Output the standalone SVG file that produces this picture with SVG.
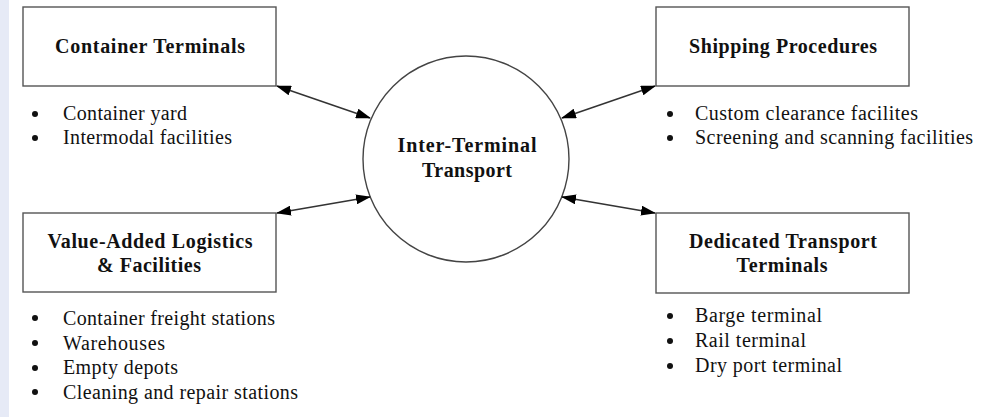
<svg xmlns="http://www.w3.org/2000/svg" width="996" height="417" viewBox="0 0 996 417">
<style>
.box{fill:#fff;stroke:#555;stroke-width:1.4}
.title{font-family:"Liberation Serif","Times New Roman",Times,serif;font-weight:bold;font-size:20px;fill:#111;text-anchor:middle}
.item{font-family:"Liberation Serif","Times New Roman",Times,serif;font-size:20px;fill:#111}
.dot{fill:#111}
.conn{stroke:#333;stroke-width:1.4;fill:none;marker-start:url(#ah);marker-end:url(#ah)}
</style>
<defs>
<marker id="ah" viewBox="0 0 15 10" refX="14" refY="5" markerWidth="15" markerHeight="10" markerUnits="userSpaceOnUse" orient="auto-start-reverse">
<path d="M0,0 L15,5 L0,10 Z" fill="#000"/>
</marker>
</defs>
<rect x="0" y="0" width="996" height="417" fill="#fff"/>
<rect x="0" y="0" width="9" height="417" fill="#e6eaf6"/>
<g id="container-terminals">
<rect class="box" x="23" y="7" width="253" height="79"/>
<text class="title" x="150" y="53" textLength="190" lengthAdjust="spacing">Container Terminals</text>
<circle class="dot" cx="35" cy="114" r="3"/>
<text class="item" x="63" y="120" textLength="124" lengthAdjust="spacing">Container yard</text>
<circle class="dot" cx="35" cy="138" r="3"/>
<text class="item" x="63" y="144" textLength="169" lengthAdjust="spacing">Intermodal facilities</text>
</g>
<g id="shipping-procedures">
<rect class="box" x="656" y="7" width="253" height="79"/>
<text class="title" x="783" y="53" textLength="188" lengthAdjust="spacing">Shipping Procedures</text>
<circle class="dot" cx="670" cy="114" r="3"/>
<text class="item" x="695" y="120" textLength="223" lengthAdjust="spacing">Custom clearance facilites</text>
<circle class="dot" cx="670" cy="138" r="3"/>
<text class="item" x="695" y="144" textLength="278" lengthAdjust="spacing">Screening and scanning facilities</text>
</g>
<g id="value-added">
<rect class="box" x="23" y="213" width="253" height="79"/>
<text class="title" x="150" y="248" textLength="205" lengthAdjust="spacing">Value-Added Logistics</text>
<text class="title" x="149" y="272" textLength="104" lengthAdjust="spacing">&amp; Facilities</text>
<circle class="dot" cx="35" cy="318" r="3"/>
<text class="item" x="63" y="325" textLength="212" lengthAdjust="spacing">Container freight stations</text>
<circle class="dot" cx="35" cy="343" r="3"/>
<text class="item" x="63" y="350" textLength="102" lengthAdjust="spacing">Warehouses</text>
<circle class="dot" cx="35" cy="368" r="3"/>
<text class="item" x="63" y="374" textLength="115" lengthAdjust="spacing">Empty depots</text>
<circle class="dot" cx="35" cy="392" r="3"/>
<text class="item" x="63" y="399" textLength="235" lengthAdjust="spacing">Cleaning and repair stations</text>
</g>
<g id="dedicated-transport">
<rect class="box" x="656" y="213" width="253" height="80"/>
<text class="title" x="783" y="248" textLength="188" lengthAdjust="spacing">Dedicated Transport</text>
<text class="title" x="782" y="272" textLength="91" lengthAdjust="spacing">Terminals</text>
<circle class="dot" cx="670" cy="316" r="3"/>
<text class="item" x="695" y="322" textLength="127" lengthAdjust="spacing">Barge terminal</text>
<circle class="dot" cx="670" cy="341" r="3"/>
<text class="item" x="695" y="347" textLength="111" lengthAdjust="spacing">Rail terminal</text>
<circle class="dot" cx="670" cy="366" r="3"/>
<text class="item" x="695" y="372" textLength="147" lengthAdjust="spacing">Dry port terminal</text>
</g>
<g id="inter-terminal">
<circle cx="466" cy="159" r="103" fill="#fff" stroke="#444" stroke-width="1.4"/>
<text class="title" x="467" y="152" textLength="139" lengthAdjust="spacing">Inter-Terminal</text>
<text class="title" x="467" y="177" textLength="90" lengthAdjust="spacing">Transport</text>
</g>
<g id="connectors">
<line class="conn" x1="277" y1="86" x2="370" y2="118"/>
<line class="conn" x1="562" y1="118" x2="655" y2="86"/>
<line class="conn" x1="277" y1="213" x2="370" y2="197"/>
<line class="conn" x1="562" y1="197" x2="655" y2="213"/>
</g>
</svg>
